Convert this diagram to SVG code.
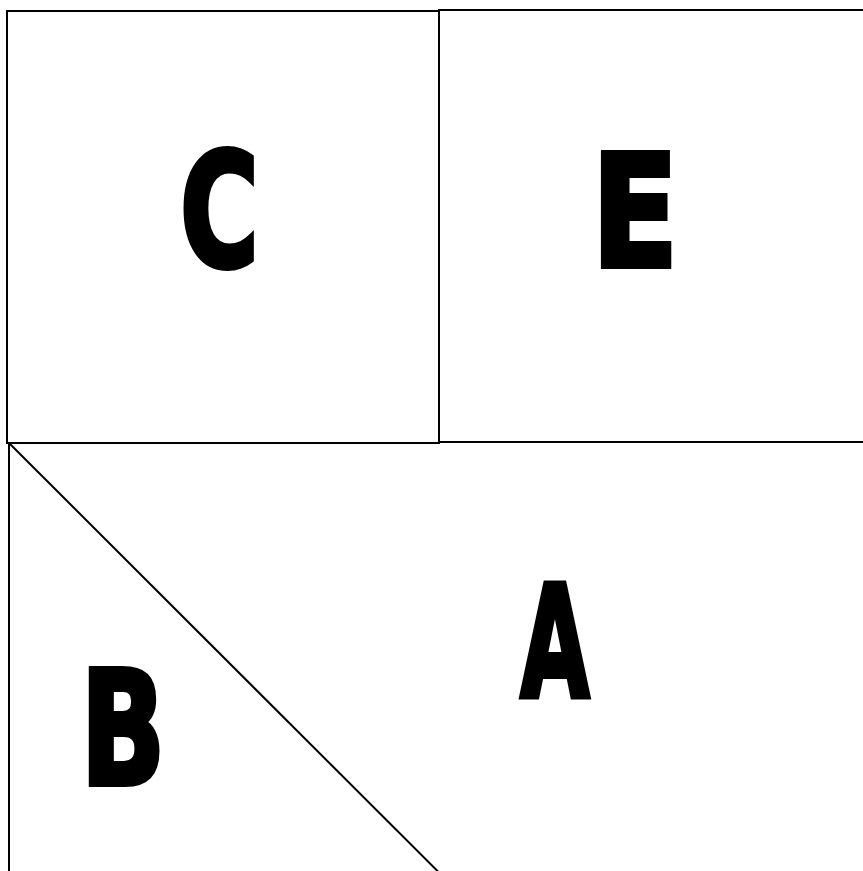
<svg xmlns="http://www.w3.org/2000/svg" width="863" height="871" viewBox="0 0 863 871">
<style>
.ln{fill:none;stroke:#000;stroke-width:2}
.lbl{font-family:"DejaVu Sans",sans-serif;font-weight:bold;font-size:156px;fill:#000;stroke:#000;stroke-width:6;stroke-linejoin:miter;text-anchor:middle}
</style>
<rect width="863" height="871" fill="#fff"/>
<g id="node-C">
<rect class="ln" x="7" y="11" width="432" height="432"/>
<text class="lbl" transform="translate(219.5,266) scale(0.685,1)">C</text>
</g>
<g id="node-E">
<polyline class="ln" points="865,10 439,10 439,442 865,442"/>
<text class="lbl" transform="translate(635,266) scale(0.81,1)">E</text>
</g>
<g id="node-B">
<text class="lbl" transform="translate(123,784) scale(0.71,1)">B</text>
</g>
<g id="node-A">
<text class="lbl" transform="translate(555,697) scale(0.57,1)">A</text>
</g>
<g id="connectors">
<line class="ln" x1="9" y1="443" x2="9" y2="872"/>
<line class="ln" x1="9" y1="443" x2="438.5" y2="872"/>
</g>
</svg>
